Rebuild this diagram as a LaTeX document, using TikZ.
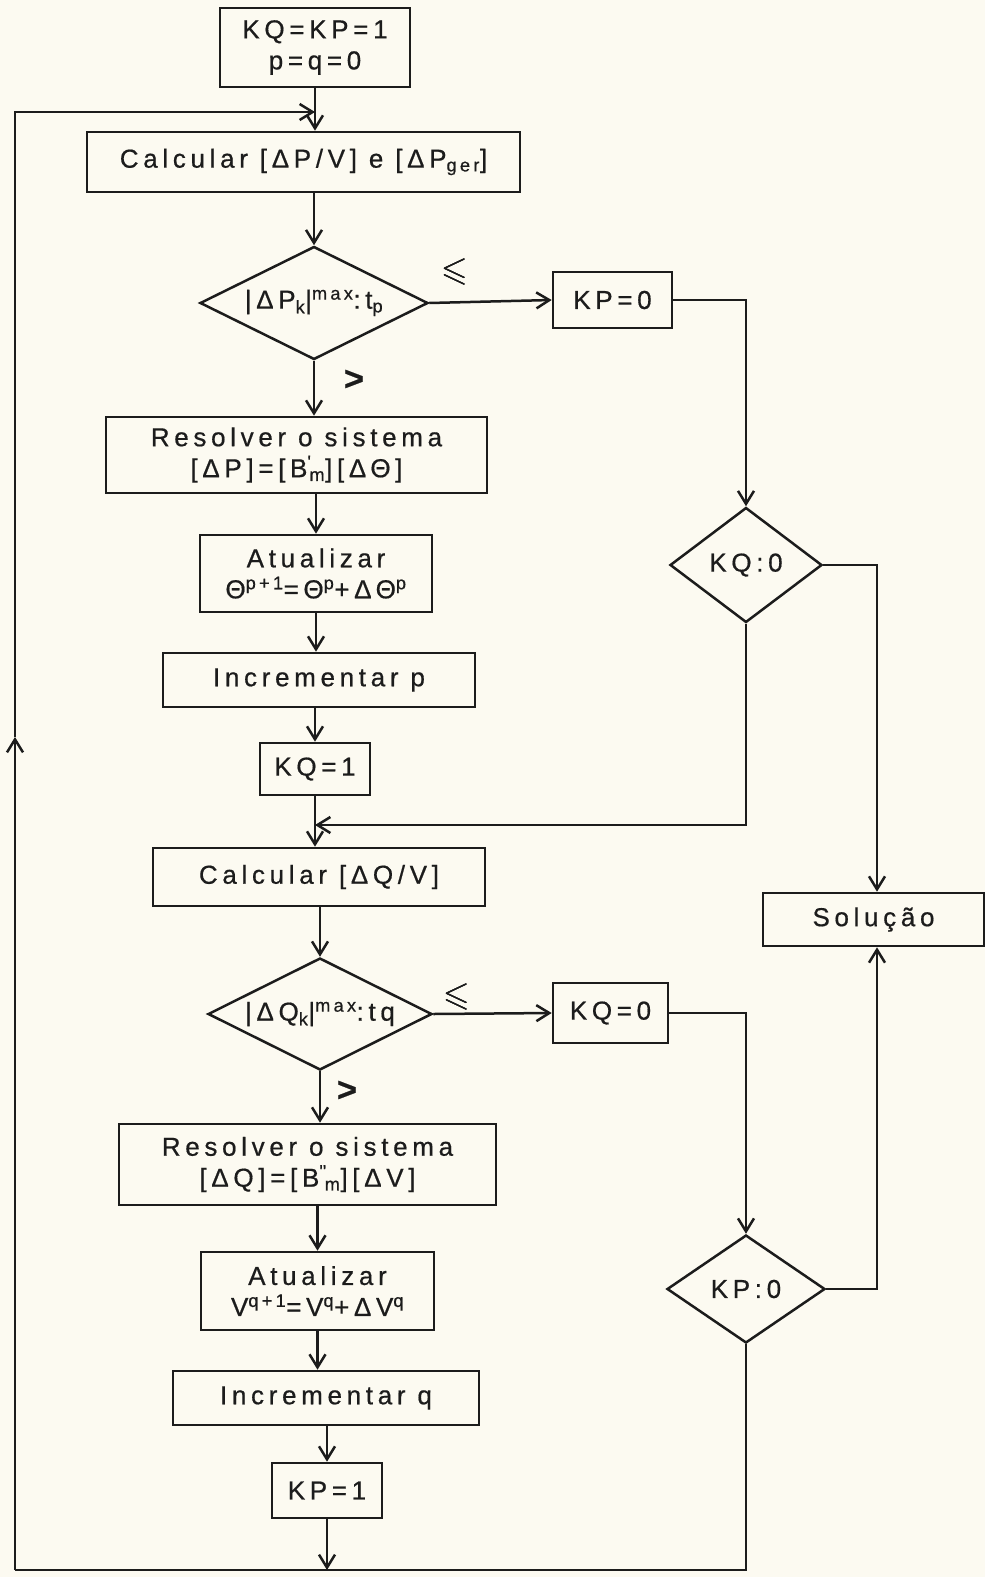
\documentclass[tikz,border=0pt]{standalone}
\usepackage{fontspec}
\usepackage{amsmath}
\usepackage{amssymb}
\setmainfont{Liberation Sans}[LetterSpace=18,FakeBold=0.6]
\usetikzlibrary{arrows.meta,shapes.geometric}
\definecolor{paper}{RGB}{252,250,241}
\definecolor{ink}{RGB}{28,28,28}
\begin{document}
\begin{tikzpicture}[x=1pt,y=-1pt,
  every node/.style={text=ink},
  txt/.style={font=\fontsize{26}{31}\selectfont},
  box/.style={draw=ink,line width=2.6pt,rectangle,inner sep=0pt,align=center,txt},
  dia/.style={draw=ink,line width=2.5pt,diamond,inner sep=0pt,aspect=2},
  ln/.style={draw=ink,line width=2.5pt},
  arr/.style={ln,-{Straight Barb[length=13pt,width=16pt,line width=2.5pt]}},
  lab/.style={inner sep=0pt,font=\fontsize{34}{38}\selectfont}]
\fill[paper] (0,0) rectangle (985,1577);
\useasboundingbox (0,0) rectangle (985,1577);

% boxes
\node[box,minimum width=190pt,minimum height=79pt] (top) at (315,47.5) {KQ=KP=1\\p=q=0};
\node[box,minimum width=433pt,minimum height=60pt] (calc1) at (303.5,162) {Calcular [ΔP/V] e [ΔP\textsubscript{ger}]};
\node[dia,minimum width=228pt,minimum height=113pt] (d1) at (314,303) {};
\node[txt,inner sep=0pt] (d1t) at (d1.center) {|ΔP\textsubscript{k}|\textsuperscript{max}:t\textsubscript{p}};
\node[box,minimum width=119pt,minimum height=56pt] (kp0) at (612.5,300) {KP=0};
\node[box,minimum width=381pt,minimum height=76pt] (res1) at (296.5,455) {Resolver o sistema\\[0pt][ΔP]=[B\textsuperscript{\textquotesingle}\kern-2pt\textsubscript{m}][ΔΘ]};
\node[box,minimum width=232pt,minimum height=77pt] (at1) at (316,573.5) {Atualizar\\[0pt]Θ\textsuperscript{p+1}=Θ\textsuperscript{p}+ΔΘ\textsuperscript{p}};
\node[box,minimum width=312pt,minimum height=54pt] (inc1) at (319,680) {Incrementar p};
\node[box,minimum width=110pt,minimum height=52pt] (kq1) at (315,769) {KQ=1};
\node[box,minimum width=332pt,minimum height=58pt] (calc2) at (319,877) {Calcular [ΔQ/V]};
\node[dia,minimum width=224pt,minimum height=112pt] (d2) at (320,1014) {};
\node[txt,inner sep=0pt] (d2t) at (d2.center) {|ΔQ\textsubscript{k}|\textsuperscript{max}:tq};
\node[box,minimum width=115pt,minimum height=60pt] (kq0) at (610.5,1013) {KQ=0};
\node[box,minimum width=377pt,minimum height=81pt] (res2) at (307.5,1164.5) {Resolver o sistema\\[0pt][ΔQ]=[B\textsuperscript{\textquotesingle\textquotesingle}\kern-2pt\textsubscript{m}][ΔV]};
\node[box,minimum width=233pt,minimum height=78pt] (at2) at (317.5,1291) {Atualizar\\[0pt]V\textsuperscript{q+1}=V\textsuperscript{q}+ΔV\textsuperscript{q}};
\node[box,minimum width=306pt,minimum height=54pt] (inc2) at (326,1398) {Incrementar q};
\node[box,minimum width=110pt,minimum height=55pt] (kp1) at (327,1490.5) {KP=1};
\node[dia,minimum width=152pt,minimum height=115pt] (kqd) at (746,565) {};
\node[txt,inner sep=0pt] (kqdt) at (kqd.center) {KQ:0};
\node[dia,minimum width=158pt,minimum height=108pt] (kpd) at (746,1289) {};
\node[txt,inner sep=0pt] (kpdt) at (kpd.center) {KP:0};
\node[box,minimum width=221pt,minimum height=53pt] (sol) at (873.5,919.5) {Solução};

% labels
\node[lab] (le1) at (455,272) {\pmb{$\leqslant$}};
\node[lab] (gt1) at (354,380) {\bfseries >};
\node[lab] (le2) at (457,997) {\pmb{$\leqslant$}};
\node[lab] (gt2) at (347,1091) {\bfseries >};

% coordinates
\coordinate (lb) at (15,1570);
\coordinate (lm) at (15,737);
\coordinate (lt) at (15,112);
\coordinate (jt) at (315,112);
\coordinate (jm) at (315,825);
\coordinate (bb) at (327,1570);

% main column
\draw[arr] (top.south) -- (top.south |- calc1.north);
\draw[arr] (d1.north |- calc1.south) -- (d1.north);
\draw[arr] (d1.south) -- (d1.south |- res1.north);
\draw[arr] (at1.north |- res1.south) -- (at1.north);
\draw[arr] (at1.south) -- (at1.south |- inc1.north);
\draw[arr] (kq1.north |- inc1.south) -- (kq1.north);
\draw[arr] (kq1.south) -- (kq1.south |- calc2.north);
\draw[arr] (d2.north |- calc2.south) -- (d2.north);
\draw[arr] (d2.south) -- (d2.south |- res2.north);
\draw[arr] (at2.north |- res2.south) -- (at2.north);
\draw[arr] (at2.south) -- (at2.south |- inc2.north);
\draw[arr] (kp1.north |- inc2.south) -- (kp1.north);
\draw[arr] (kp1.south) -- (bb);

% branches
\draw[arr] (d1.east) -- (kp0.west);
\draw[arr] (kp0.east) -| (kqd.north);
\draw[arr] (kqd.south) |- (jm);
\draw[arr] (kqd.east) -| (sol.north -| 877,0);
\draw[arr] (d2.east) -- (kq0.west);
\draw[arr] (kq0.east) -| (kpd.north);
\draw[arr] (kpd.east) -| (sol.south -| 877,0);
\draw[ln] (kpd.south) |- (lb);
\draw[arr] (lb) -- (lm);
\draw[arr] (lm) -- (lt) -- (jt);
\end{tikzpicture}
\end{document}
